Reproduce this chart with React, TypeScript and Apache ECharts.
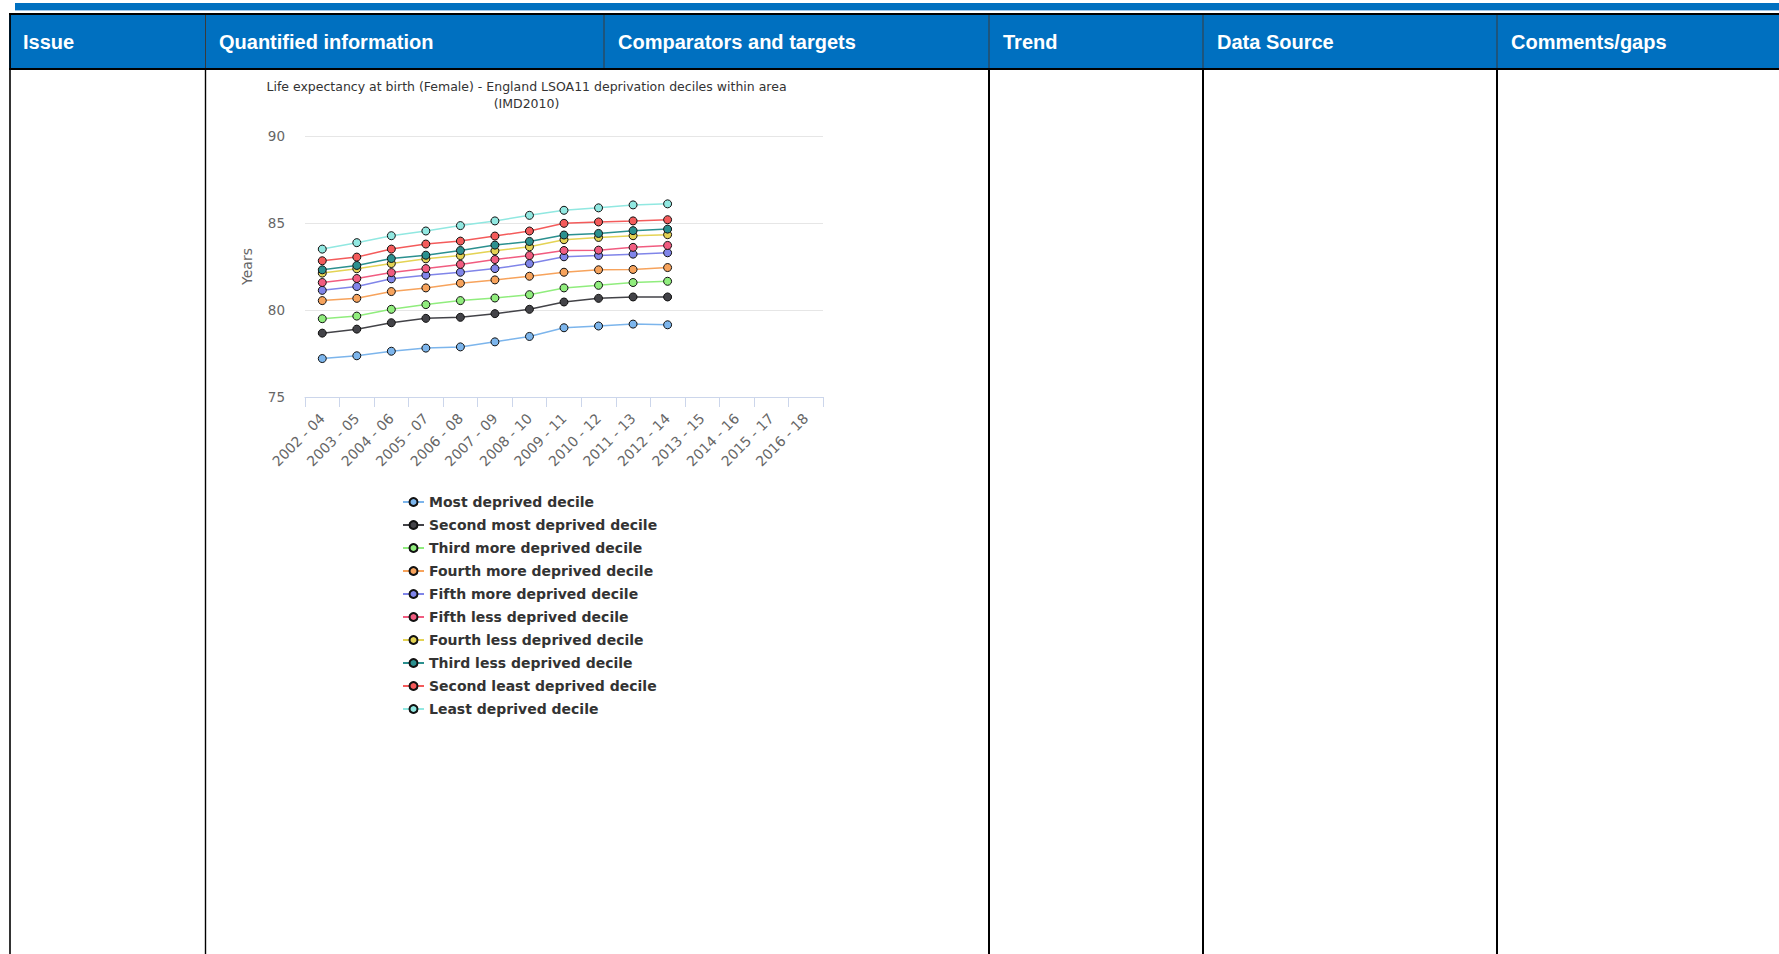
import React, { useEffect, useRef } from "react";
import * as echarts from "echarts";

// Rolling three-year periods on the category axis
const periods = [
  "2002 - 04", "2003 - 05", "2004 - 06", "2005 - 07", "2006 - 08",
  "2007 - 09", "2008 - 10", "2009 - 11", "2010 - 12", "2011 - 13",
  "2012 - 14", "2013 - 15", "2014 - 16", "2015 - 17", "2016 - 18",
];

// Female life expectancy at birth (years) by deprivation decile
const mostDeprived = [77.21, 77.37, 77.63, 77.81, 77.88, 78.17, 78.48, 78.98, 79.08, 79.19, 79.15];
const secondMostDeprived = [78.67, 78.9, 79.27, 79.52, 79.58, 79.79, 80.04, 80.46, 80.67, 80.75, 80.75];
const thirdMoreDeprived = [79.5, 79.65, 80.04, 80.31, 80.54, 80.69, 80.88, 81.27, 81.42, 81.58, 81.65];
const fourthMoreDeprived = [80.54, 80.67, 81.06, 81.27, 81.54, 81.73, 81.94, 82.17, 82.31, 82.33, 82.44];
const fifthMoreDeprived = [81.13, 81.35, 81.79, 82.0, 82.17, 82.38, 82.67, 83.06, 83.13, 83.21, 83.29];
const fifthLessDeprived = [81.58, 81.81, 82.15, 82.38, 82.62, 82.9, 83.13, 83.42, 83.44, 83.6, 83.71];
const fourthLessDeprived = [82.12, 82.37, 82.67, 82.94, 83.13, 83.4, 83.63, 84.04, 84.17, 84.27, 84.33];
const thirdLessDeprived = [82.31, 82.56, 82.96, 83.15, 83.42, 83.73, 83.94, 84.31, 84.4, 84.56, 84.65];
const secondLeastDeprived = [82.83, 83.04, 83.5, 83.79, 83.96, 84.25, 84.54, 84.98, 85.06, 85.12, 85.19];
const leastDeprived = [83.5, 83.87, 84.27, 84.54, 84.85, 85.12, 85.44, 85.73, 85.87, 86.04, 86.1];

const seriesNames = [
  "Most deprived decile",
  "Second most deprived decile",
  "Third more deprived decile",
  "Fourth more deprived decile",
  "Fifth more deprived decile",
  "Fifth less deprived decile",
  "Fourth less deprived decile",
  "Third less deprived decile",
  "Second least deprived decile",
  "Least deprived decile",
];

const seriesValues = [
  mostDeprived, secondMostDeprived, thirdMoreDeprived, fourthMoreDeprived, fifthMoreDeprived,
  fifthLessDeprived, fourthLessDeprived, thirdLessDeprived, secondLeastDeprived, leastDeprived,
];

const seriesColors = [
  "#7cb5ec", "#434348", "#90ed7d", "#f7a35c", "#8085e9",
  "#f15c80", "#e4d354", "#2b908f", "#f45b5b", "#91e8e1",
];

const yTicks = { min: 75, max: 90, step: 5 };

const titleLines = [
  "Life expectancy at birth (Female) - England LSOA11 deprivation deciles within area",
  "(IMD2010)",
];

const tableHeaders = [
  "Issue", "Quantified information", "Comparators and targets",
  "Trend", "Data Source", "Comments/gaps",
];

const W = 1779;
const H = 954;
const CHART_FONT = '"DejaVu Sans", "Lucida Grande", sans-serif';
const TABLE_FONT = '"Liberation Sans", Arial, sans-serif';
const BLUE = "#0070c0";

function tableGraphics(): any[] {
  const els: any[] = [];
  // top rule
  els.push({ type: "rect", shape: { x: 15, y: 3, width: W - 15, height: 7 }, style: { fill: BLUE } });
  els.push({ type: "rect", shape: { x: 15, y: 10, width: W - 15, height: 1 }, style: { fill: "#9fc5e8" } });
  // header band with borders
  els.push({ type: "rect", shape: { x: 9, y: 15, width: W - 9, height: 53 }, style: { fill: BLUE } });
  els.push({ type: "rect", shape: { x: 9, y: 13, width: W - 9, height: 2 }, style: { fill: "#000" } });
  els.push({ type: "rect", shape: { x: 9, y: 68, width: W - 9, height: 2 }, style: { fill: "#000" } });
  // header column dividers
  const headerCols = [205.5, 604, 989, 1203, 1497];
  headerCols.forEach((x) => {
    els.push({ type: "line", shape: { x1: x, y1: 15, x2: x, y2: 68 }, style: { stroke: "#3a3a3a", lineWidth: 1 } });
  });
  // body column rules
  const bodyCols: [number, number][] = [[10, 1.6], [205.5, 1.4], [989, 2], [1203, 2], [1497, 2]];
  els.push({ type: "rect", shape: { x: 9.2, y: 13, width: 1.7, height: 55 }, style: { fill: "#000" } });
  bodyCols.forEach(([x, w]) => {
    els.push({ type: "line", shape: { x1: x, y1: 70, x2: x, y2: H }, style: { stroke: "#000", lineWidth: w } });
  });
  // header labels
  const headerX = [23, 219, 618, 1003, 1217, 1511];
  tableHeaders.forEach((t, i) => {
    els.push({
      type: "text",
      x: headerX[i],
      y: 42,
      style: {
        text: t,
        fill: "#fff",
        fontFamily: TABLE_FONT,
        fontSize: 20,
        fontWeight: "bold",
        align: "left",
        verticalAlign: "middle",
      },
    });
  });
  // chart title
  titleLines.forEach((t, i) => {
    els.push({
      type: "text",
      x: 526.5,
      y: 86 + i * 17,
      style: {
        text: t,
        fill: "#333",
        fontFamily: CHART_FONT,
        fontSize: 12.5,
        align: "center",
        verticalAlign: "middle",
      },
    });
  });
  return els;
}

export default function App() {
  const ref = useRef<HTMLDivElement>(null);

  useEffect(() => {
    if (!ref.current) return;
    const chart = echarts.init(ref.current, undefined, { renderer: "svg" });
    chart.setOption({
      animation: false,
      backgroundColor: "#fff",
      textStyle: { fontFamily: CHART_FONT },
      grid: { left: 305, right: W - 823, top: 136, bottom: H - 397, containLabel: false },
      legend: {
        orient: "vertical",
        left: 402,
        top: 495,
        padding: 0,
        itemWidth: 21,
        itemHeight: 10,
        itemGap: 9,
        data: seriesNames,
        textStyle: {
          fontFamily: CHART_FONT,
          fontSize: 14,
          fontWeight: "bold",
          color: "#333",
          lineHeight: 14,
        },
      },
      xAxis: {
        type: "category",
        data: periods,
        boundaryGap: true,
        axisLine: { lineStyle: { color: "#ccd6eb", width: 1 } },
        axisTick: { show: true, interval: 0, length: 10, lineStyle: { color: "#ccd6eb" } },
        axisLabel: { rotate: 45, interval: 0, color: "#666", fontSize: 14, margin: 19, fontFamily: CHART_FONT },
        splitLine: { show: false },
      },
      yAxis: {
        type: "value",
        min: yTicks.min,
        max: yTicks.max,
        interval: yTicks.step,
        name: "Years",
        nameLocation: "middle",
        nameGap: 51,
        nameTextStyle: { color: "#666", fontSize: 14, fontFamily: CHART_FONT },
        axisLabel: { color: "#666", fontSize: 13.5, margin: 20, fontFamily: CHART_FONT },
        axisLine: { show: false },
        axisTick: { show: false },
        splitLine: { lineStyle: { color: "#e6e6e6", width: 1 } },
      },
      series: seriesNames.map((name, i) => ({
        name,
        type: "line",
        data: seriesValues[i],
        symbol: "circle",
        symbolSize: 8,
        showAllSymbol: true,
        lineStyle: { color: seriesColors[i], width: 1.5 },
        itemStyle: { color: seriesColors[i], borderColor: "#111", borderWidth: 1 },
        emphasis: { disabled: true },
      })),
      graphic: { elements: tableGraphics() },
    });
    return () => chart.dispose();
  }, []);

  return (
    <div
      ref={ref}
      style={{ position: "fixed", left: 0, top: 0, width: W, height: H, background: "#fff" }}
    />
  );
}
